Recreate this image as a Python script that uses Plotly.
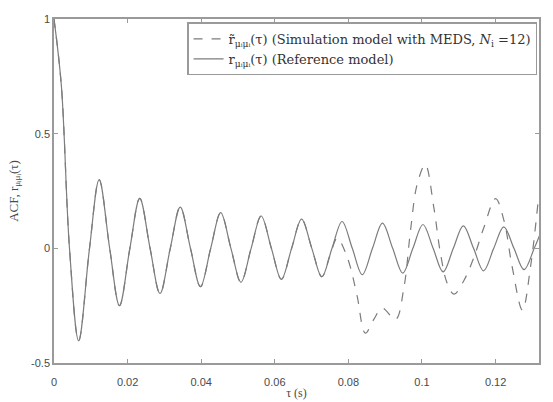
import plotly.graph_objects as go

# Reference model ACF (extrema and zero crossings)
tau_ref = [0.0, 0.0020, 0.00421, 0.00670, 0.00965, 0.01227, 0.01513, 0.01779, 0.02062,
           0.02330, 0.02611, 0.02881, 0.03160, 0.03431, 0.03709, 0.03980, 0.04258,
           0.04530, 0.04808, 0.05080, 0.05357, 0.05630, 0.05908, 0.06179, 0.06457,
           0.06728, 0.07006, 0.07279, 0.07555, 0.07828, 0.08106, 0.08377, 0.08655,
           0.08926, 0.09204, 0.09477, 0.09753, 0.10026, 0.10303, 0.10575, 0.10852,
           0.11124, 0.11401, 0.11674, 0.11950, 0.12223, 0.12499, 0.12774, 0.13050,
           0.13204]
acf_ref = [1.0, 0.71, 0.0, -0.403, 0.0, 0.300, 0.0, -0.250, 0.0,
           0.218, 0.0, -0.197, 0.0, 0.180, 0.0, -0.167, 0.0,
           0.156, 0.0, -0.148, 0.0, 0.141, 0.0, -0.135, 0.0,
           0.127, 0.0, -0.124, 0.0, 0.117, 0.0, -0.115, 0.0,
           0.110, 0.0, -0.108, 0.0, 0.104, 0.0, -0.103, 0.0,
           0.098, 0.0, -0.098, 0.0, 0.094, 0.0, -0.093, 0.0,
           0.06]

# Simulation model (MEDS, N_i = 12): follows the reference up to ~0.073 s
n_common = 28
tau_sim = tau_ref[:n_common] + [0.0750, 0.0770, 0.0790, 0.0805, 0.0824, 0.0846, 0.0869,
                                0.0892, 0.0928, 0.0951, 0.0969, 0.0987, 0.1009, 0.1032,
                                0.1050, 0.1068, 0.1087, 0.1114, 0.1141, 0.1168, 0.1200,
                                0.1223, 0.1245, 0.1273, 0.1295, 0.1315]
acf_sim = acf_ref[:n_common] + [-0.03, 0.045, -0.01, -0.08, -0.21, -0.37, -0.31,
                                -0.26, -0.31, -0.17, 0.08, 0.28, 0.365, 0.18,
                                -0.02, -0.15, -0.20, -0.14, -0.04, 0.09, 0.217,
                                0.12, -0.08, -0.27, -0.08, 0.195]

x_ticks = [0, 0.02, 0.04, 0.06, 0.08, 0.1, 0.12]
x_ticklabels = ["0", "0.02", "0.04", "0.06", "0.08", "0.1", "0.12"]
y_ticks = [-0.5, 0, 0.5, 1]
y_ticklabels = ["-0.5", "0", "0.5", "1"]

line_col = "#7c7c7c"
axis_col = "#9a9a9a"
text_col = "#4a4a4a"

fig = go.Figure()
fig.add_trace(go.Scatter(
    x=tau_sim, y=acf_sim, mode="lines",
    line=dict(color=line_col, width=1.2, dash="dash", shape="spline", smoothing=1.0),
    name="r̃<sub>μᵢμᵢ</sub>(τ) (Simulation model with MEDS, <i>N</i><sub>i</sub> =12)",
))
fig.add_trace(go.Scatter(
    x=tau_ref, y=acf_ref, mode="lines",
    line=dict(color=line_col, width=1.2, shape="spline", smoothing=1.0),
    name="r<sub>μᵢμᵢ</sub>(τ) (Reference model)",
))

fig.update_layout(
    width=553, height=402,
    margin=dict(l=54, r=14, t=19, b=39),
    paper_bgcolor="white", plot_bgcolor="white",
    showlegend=True,
    legend=dict(
        x=0.996, y=0.99, xanchor="right", yanchor="top",
        bgcolor="white", bordercolor=axis_col, borderwidth=1.5,
        font=dict(family="DejaVu Serif, Liberation Serif, serif", size=13, color="#333333"),
        itemwidth=30,
    ),
    font=dict(family="Liberation Sans, Arial, sans-serif", size=11, color=text_col),
)
fig.update_xaxes(
    range=[0, 0.1318], tickvals=x_ticks, ticktext=x_ticklabels,
    showgrid=False, zeroline=False, automargin=False,
    showline=True, linecolor=axis_col, linewidth=1.5, mirror="ticks",
    ticks="inside", ticklen=4, tickcolor=axis_col, ticklabelstandoff=8,
    tickfont=dict(size=11, color=text_col),
    title=dict(text="τ (s)", font=dict(family="Liberation Serif, serif", size=12, color=text_col), standoff=2),
)
fig.update_yaxes(
    range=[-0.5, 1], tickvals=y_ticks, ticktext=y_ticklabels,
    showgrid=False, zeroline=False, automargin=False,
    showline=True, linecolor=axis_col, linewidth=1.5, mirror="ticks",
    ticks="inside", ticklen=4, tickcolor=axis_col,
    tickfont=dict(size=11, color=text_col),
    title=dict(text="ACF, r<sub>μᵢμᵢ</sub>(τ)", font=dict(family="Liberation Serif, serif", size=13, color=text_col), standoff=10),
)

fig.write_html("out.html")
